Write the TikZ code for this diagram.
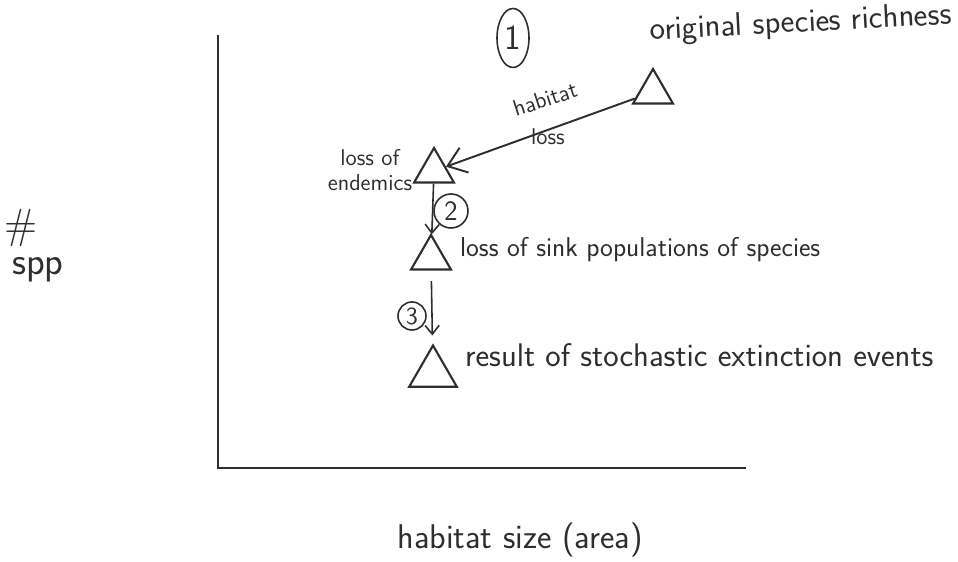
\documentclass[tikz,border=0pt]{standalone}
\usetikzlibrary{arrows.meta,positioning,shapes.geometric}
\definecolor{SketchInk}{HTML}{2E2E2E}
\definecolor{SketchPaper}{HTML}{FFFFFF}
\tikzset{
  sketch axis/.style={draw=SketchInk, line width=1.1pt},
  sketch label/.style={font=\sffamily\fontsize{18.6}{22}\selectfont, text=SketchInk, inner sep=1pt},
  sketch note/.style={font=\sffamily\fontsize{13}{14}\selectfont, text=SketchInk, inner sep=1pt},
  sketch triangle/.style={regular polygon, regular polygon sides=3, draw=SketchInk, line width=1.2pt, minimum size=.92cm, inner sep=0pt},
  sketch badge/.style={circle, draw=SketchInk, line width=.9pt, inner sep=0pt, font=\sffamily\fontsize{16}{18}\selectfont, text=SketchInk},
  sketch loss/.style={draw=SketchInk, line width=1.1pt, -{Straight Barb[length=10pt,width=15pt]}},
  sketch step/.style={draw=SketchInk, line width=.9pt, -{Straight Barb[length=5pt,width=8pt]}},
}

\begin{document}
\begin{tikzpicture}[x=1cm,y=1cm]
  \useasboundingbox[fill=SketchPaper] (0,0) rectangle (19.16,11.24);

  % axes
  \coordinate (ytop) at (4.36,10.54);
  \coordinate (origin) at (4.36,1.88);
  \coordinate (xend) at (14.92,1.88);
  \draw[sketch axis] (ytop) -- (origin) -- (xend);
  \node[sketch label, font=\sffamily\fontsize{19.5}{22}\selectfont] (xlabel) at (10.40,.44) {habitat size (area)};
  \node[sketch label, font=\sffamily\fontsize{24}{26}\selectfont] (yhash) at (.42,6.68) {\#};
  \node[sketch label, font=\sffamily\fontsize{22}{24}\selectfont] (yspp) at (.76,5.84) {spp};

  % species richness, step by step
  \node[sketch triangle] (orig) at (13.06,9.40) {};
  \node[sketch triangle] (endem) at (8.68,7.82) {};
  \node[sketch triangle] (sink) at (8.62,6.08) {};
  \node[sketch triangle, minimum size=1.10cm] (stoch) at (8.66,3.78) {};

  \node[sketch label, anchor=west, rotate=3] (origtext) at (12.96,10.60) {original species richness};
  \node[sketch note, align=center] (endemtext) at (7.40,7.84) {loss of\\endemics};
  \node[sketch label, font=\sffamily\fontsize{15.5}{18}\selectfont, anchor=west]
    (sinktext) at (9.16,6.24) {loss of sink populations of species};
  \node[sketch label, anchor=west] (stochtext) at (9.26,4.14) {result of stochastic extinction events};

  % the three losses
  \draw[sketch loss] (orig) -- (endem);
  \node[sketch note, rotate=18] (habtext) at (10.90,9.26) {habitat};
  \node[sketch note] (losstext) at (10.96,8.50) {loss};
  \node[sketch badge, ellipse, font=\sffamily\fontsize{20}{22}\selectfont,
    minimum width=.64cm, minimum height=1.18cm] (stepone) at (10.26,10.48) {1};

  \draw[sketch step] (endem) -- (sink);
  \node[sketch badge, minimum size=.68cm] (steptwo) at (9.02,7.02) {2};

  \draw[sketch step, shorten <=6pt, shorten >=5pt] (sink) -- (stoch);
  \node[sketch badge, font=\sffamily\fontsize{14}{16}\selectfont, minimum size=.56cm] (stepthree) at (8.24,4.92) {3};
\end{tikzpicture}
\end{document}
